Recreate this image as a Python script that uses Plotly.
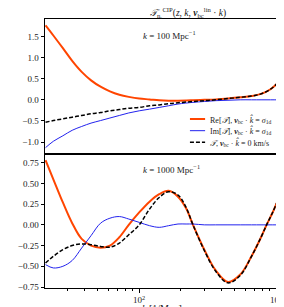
import plotly.graph_objects as go
from plotly.subplots import make_subplots

# ---- data ----
k_top = [20.7, 23.6, 27.7, 32.4, 38.0, 44.5, 52.2, 61.1, 71.6, 83.9, 100, 119, 140, 164, 192, 247, 299, 362, 445, 547, 661, 776, 910, 1050]
re_top = [1.76, 1.52, 1.22, 0.92, 0.66, 0.46, 0.31, 0.20, 0.12, 0.07, 0.03, 0.01, -0.01, -0.02, -0.02, -0.01, 0.0, 0.01, 0.03, 0.06, 0.09, 0.14, 0.25, 0.43]
im_top = [-1.13, -0.98, -0.85, -0.72, -0.63, -0.55, -0.49, -0.43, -0.37, -0.31, -0.26, -0.22, -0.18, -0.14, -0.10, -0.06, -0.04, -0.02, -0.01, 0.0, 0.0, 0.0, 0.0, 0.0]
t0_top = [-0.53, -0.49, -0.45, -0.41, -0.37, -0.33, -0.30, -0.26, -0.23, -0.20, -0.18, -0.14, -0.12, -0.09, -0.07, -0.04, -0.02, 0.0, 0.03, 0.06, 0.09, 0.14, 0.25, 0.43]

k_bot = [20.7, 23.6, 27.7, 32.4, 38.0, 44.5, 52.2, 61.1, 71.6, 83.9, 100, 119, 140, 164, 192, 220, 247, 299, 362, 445, 547, 661, 776, 852, 937, 1050]
re_bot = [0.78, 0.55, 0.27, 0.02, -0.17, -0.25, -0.275, -0.25, -0.15, 0.0, 0.15, 0.28, 0.37, 0.41, 0.34, 0.20, 0.0, -0.30, -0.55, -0.69, -0.60, -0.38, -0.15, 0.0, 0.14, 0.33]
im_bot = [-0.48, -0.52, -0.50, -0.43, -0.28, -0.13, 0.02, 0.08, 0.10, 0.07, 0.03, -0.01, -0.03, -0.01, 0.01, 0.01, 0.01, 0.0, 0.0, 0.0, 0.0, 0.0, 0.0, 0.0, 0.0, 0.0]
t0_bot = [-0.46, -0.38, -0.30, -0.25, -0.23, -0.24, -0.26, -0.27, -0.22, -0.12, 0.0, 0.19, 0.33, 0.40, 0.36, 0.21, 0.0, -0.31, -0.56, -0.70, -0.61, -0.38, -0.15, 0.0, 0.14, 0.33]

top_yticks = [1.5, 1.0, 0.5, 0.0, -0.5, -1.0]
bot_yticks = [0.75, 0.5, 0.25, 0.0, -0.25, -0.5, -0.75]
x_major = [100, 1000]
x_major_text = ["10<sup>2</sup>", "10<sup>3</sup>"]
x_minor = [30, 40, 50, 60, 70, 80, 90, 200, 300, 400, 500, 600, 700, 800, 900]

legend_labels = [
    "Re[<i>𝒯</i>], <b><i>v</i></b><sub>bc</sub> · <i>k̂</i> = <i>σ</i><sub>1d</sub>",
    "Im[<i>𝒯</i>], <b><i>v</i></b><sub>bc</sub> · <i>k̂</i> = <i>σ</i><sub>1d</sub>",
    "<i>𝒯</i>, <b><i>v</i></b><sub>bc</sub> · <i>k̂</i> = 0 km/s",
]

RED = "#FF4500"
BLUE = "#2222ee"
FONT = "Liberation Serif"

fig = make_subplots(rows=2, cols=1, shared_xaxes=True, vertical_spacing=0)

def add_panel(row, k, re, im, t0):
    fig.add_trace(go.Scatter(x=k, y=re, mode="lines", line=dict(color=RED, width=2, shape="spline"),
                             showlegend=False), row=row, col=1)
    fig.add_trace(go.Scatter(x=k, y=im, mode="lines", line=dict(color=BLUE, width=1, shape="spline"),
                             showlegend=False), row=row, col=1)
    fig.add_trace(go.Scatter(x=k, y=t0, mode="lines", line=dict(color="black", width=1.5, dash="4px,2px", shape="spline"),
                             showlegend=False), row=row, col=1)

add_panel(1, k_top, re_top, im_top, t0_top)
add_panel(2, k_bot, re_bot, im_bot, t0_bot)

W, H = 284, 307
DX = 5  # observed horizontal page offset
ml, mr, mt, mb = 32 - DX, 5 + DX, 10, 20
pw, ph = W - ml - mr, H - mt - mb
split = 138 / ph

fig.update_layout(
    width=W, height=H,
    margin=dict(l=ml, r=mr, t=mt, b=mb),
    plot_bgcolor="white", paper_bgcolor="white",
    font=dict(family=FONT, size=9, color="#222"),
    showlegend=False,
)

axis_common = dict(showline=True, mirror=True, linecolor="black", linewidth=1, showgrid=False, zeroline=False)
fig.update_xaxes(type="log", range=[1.312, 3.021], **axis_common)
fig.update_xaxes(row=1, col=1, ticks="", showticklabels=False)
fig.update_xaxes(row=2, col=1, ticks="outside", ticklen=3.5, tickcolor="black",
                 tickvals=x_major, ticktext=x_major_text, ticklabeloverflow="allow",
                 minor=dict(ticks="outside", ticklen=2, tickcolor="black", tickvals=x_minor))
fig.update_yaxes(row=1, col=1, range=[-1.28, 1.91], tickvals=top_yticks, tickformat=".1f",
                 ticks="outside", ticklen=3.5, tickcolor="black", **axis_common)
fig.update_yaxes(row=2, col=1, range=[-0.762, 0.855], tickvals=bot_yticks, tickformat=".2f",
                 ticks="outside", ticklen=3.5, tickcolor="black", **axis_common)
fig.layout.yaxis.domain = [split, 1]
fig.layout.yaxis2.domain = [0, split]

def px_x(p):
    return (p - DX - ml) / pw

def px_y(p):
    return (H - mb - p) / ph

anns = [
    dict(text="<i>𝒯</i><sub>n<sub>e</sub></sub><sup>CIP</sup>(<i>z</i>, <i>k</i>, <b><i>v</i></b><sub>bc</sub><sup>lin</sup> · <i>k̂</i>)",
         x=px_x(183), y=px_y(4), size=9.5),
    dict(text="<i>k</i> = 100 Mpc<sup>−1</sup>", x=px_x(163), y=px_y(26), size=9),
    dict(text="<i>k</i> = 1000 Mpc<sup>−1</sup>", x=px_x(165), y=px_y(164), size=9),
    dict(text="<i>k</i> [1/Mpc]", x=px_x(155), y=px_y(308.5), size=10),
]
for a in anns:
    fig.add_annotation(text=a["text"], x=a["x"], y=a["y"], xref="paper", yref="paper",
                       showarrow=False, xanchor="center", yanchor="middle",
                       font=dict(family=FONT, size=a["size"], color="#222"))

# legend drawn by hand
leg_rows = [113, 125, 137]
leg_styles = [dict(color=RED, width=2), dict(color=BLUE, width=1), dict(color="black", width=1.5, dash="4px,2px")]
for yy, lab, st in zip(leg_rows, legend_labels, leg_styles):
    fig.add_shape(type="line", xref="paper", yref="paper", x0=px_x(185), x1=px_x(201),
                  y0=px_y(yy), y1=px_y(yy), line=st)
    fig.add_annotation(text=lab, x=px_x(204), y=px_y(yy), xref="paper", yref="paper",
                       showarrow=False, xanchor="left", yanchor="middle",
                       font=dict(family=FONT, size=8, color="#222"))

fig.write_html("out.html")
